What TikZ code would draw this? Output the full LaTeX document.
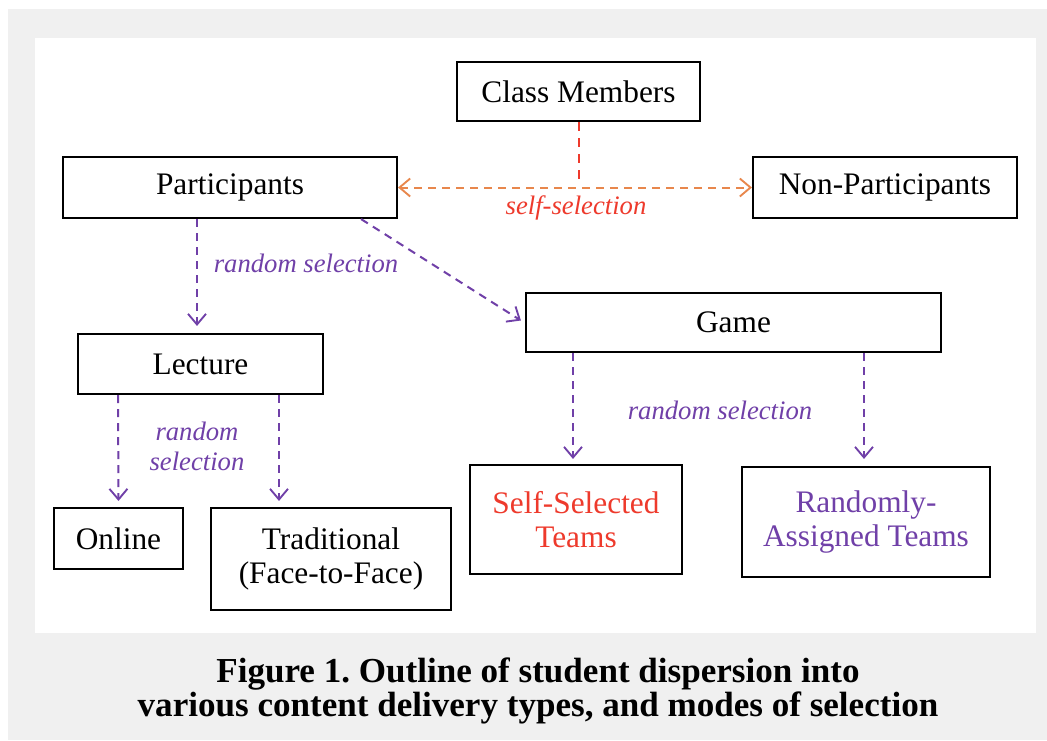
\documentclass[tikz,border=0pt]{standalone}
\usepackage{fontspec}
\setmainfont{Liberation Serif}
\usetikzlibrary{arrows.meta,calc}
\definecolor{bggray}{HTML}{F0F0F0}
\definecolor{purp}{HTML}{7040A8}
\definecolor{orng}{HTML}{E8874C}
\definecolor{redt}{HTML}{EE3A2C}
\tikzset{
  box/.style={draw=black, line width=1.6pt, inner sep=0pt, align=center,
    font=\fontsize{23.5pt}{25.5pt}\selectfont},
  lbl/.style={inner sep=0pt, align=center, font=\fontsize{20pt}{22.5pt}\selectfont\itshape},
  vtip/.tip={Straight Barb[length=8pt,width=13.5pt,line width=1.4pt]},
  parr/.style={draw=purp, line width=1.5pt, dash pattern=on 6pt off 4.5pt, -vtip},
}
\begin{document}
\frenchspacing
\begin{tikzpicture}[x=0.75pt,y=-0.75pt]
\useasboundingbox (0,0) rectangle (1047,740);
\fill[bggray] (8,9) rectangle (1047,740);
\fill[white] (35,38) rectangle (1036,633);

\node[box, minimum width=243*0.75pt, minimum height=59*0.75pt] (cm) at (578.5,91.5) {Class Members};
\node[box, minimum width=334*0.75pt, minimum height=61*0.75pt] (part) at (230,187.5) {Participants};
\node[box, minimum width=264*0.75pt, minimum height=61*0.75pt] (nonpart) at (885,187.5) {Non-Participants};
\node[box, minimum width=415*0.75pt, minimum height=59*0.75pt] (game) at (733.5,322.5) {Game};
\node[box, minimum width=245*0.75pt, minimum height=60*0.75pt] (lecture) at (200.5,364) {Lecture};
\node[box, minimum width=129*0.75pt, minimum height=61*0.75pt] (online) at (118.5,538.5) {Online};
\node[box, minimum width=240*0.75pt, minimum height=102*0.75pt] (trad) at (331,559) {Traditional\\(Face-to-Face)};
\node[box, minimum width=212*0.75pt, minimum height=109*0.75pt, text=redt] (sst) at (576,519.5) {Self-Selected\\Teams};
\node[box, minimum width=248*0.75pt, minimum height=110*0.75pt, text=purp] (rat) at (866,522) {Randomly-\\Assigned Teams};

% self-selection
\coordinate (mid) at ($(cm.south)+(0,62)$);
\draw[redt, line width=1.5pt, dash pattern=on 7pt off 5pt] (cm.south) -- (mid);
\draw[orng, line width=1.5pt, dash pattern=on 6pt off 4.5pt, vtip-vtip]
  (part.east) -- (nonpart.west);
\node[lbl, text=redt] (ssl) at (576,208) {self-selection};

% participants
\draw[parr] ($(part.south)+(-33,0)$) -- ($(lecture.north)+(-3.5,-7)$);
\draw[parr] ($(part.south east)+(-37,0)$) -- ($(game.west)+(-4,-2)$);
\node[lbl, text=purp] (rs1) at (306,263) {random selection};

% lecture
\draw[parr] ($(lecture.south)+(-82.5,0)$) -- ($(online.north)+(0,-6)$);
\draw[parr] ($(lecture.south)+(78.5,0)$) -- ($(trad.north)+(-52,-6)$);
\node[lbl, text=purp] (rs2) at (197,446) {random\\selection};

% game
\draw[parr] ($(game.south)+(-160.5,0)$) -- ($(sst.north)+(-3,-5)$);
\draw[parr] ($(game.south)+(130.5,0)$) -- ($(rat.north)+(-2,-7)$);
\node[lbl, text=purp] (rs3) at (720,410) {random selection};

% caption
\node[inner sep=0pt, align=center, font=\fontsize{26.3pt}{26pt}\selectfont\bfseries] (cap) at (538,691)
  {Figure 1. Outline of student dispersion into\\various content delivery types, and modes of selection};
\end{tikzpicture}
\end{document}
